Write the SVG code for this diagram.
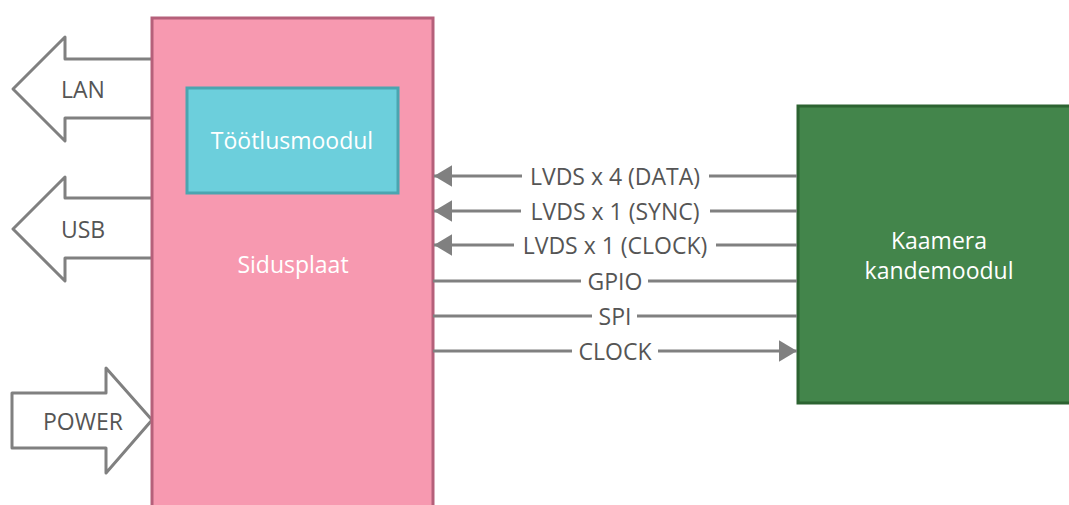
<svg xmlns="http://www.w3.org/2000/svg" width="1069" height="505" viewBox="0 0 1069 505">
<defs>
<style>
.lbl{font-family:"Open Sans","Noto Sans",sans-serif;font-size:23px;fill:#555555;text-anchor:middle;dominant-baseline:central}
.wt{font-family:"Open Sans","Noto Sans",sans-serif;font-size:23px;fill:#ffffff;text-anchor:middle;dominant-baseline:central}
.conn{stroke:#808080;stroke-width:3;fill:none}
.big{fill:#ffffff;stroke:#808080;stroke-width:3;stroke-linejoin:round}
.bg{fill:#ffffff}
</style>
<marker id="ah" viewBox="0 0 10 12" refX="10" refY="6" markerWidth="6" markerHeight="7.2" markerUnits="strokeWidth" orient="auto">
<path d="M0,0 L10,6 L0,12 Z" fill="#808080"/>
</marker>
</defs>
<rect width="1069" height="505" fill="#ffffff"/>
<g id="lan">
<path class="big" d="M152,59 H65 V37 L13,89 L65,141 V118 H152"/>
<text class="lbl" x="83" y="89">LAN</text>
</g>
<g id="usb">
<path class="big" d="M152,198 H65 V177 L13,229 L65,281 V258 H152"/>
<text class="lbl" x="83" y="229">USB</text>
</g>
<g id="power">
<path class="big" d="M152,420 L106,368 V393 H12 V448 H106 V473 Z"/>
<text class="lbl" x="83" y="421">POWER</text>
</g>
<g id="sidusplaat">
<rect x="152" y="18" width="281" height="500" fill="#f799b0" stroke="#b5607a" stroke-width="3"/>
<text class="wt" x="293" y="264">Sidusplaat</text>
</g>
<g id="tootlusmoodul">
<rect x="187" y="88" width="211" height="105" fill="#6ccfdc" stroke="#4aa5b0" stroke-width="3"/>
<text class="wt" x="292" y="140">Töötlusmoodul</text>
</g>
<g id="kaamera">
<rect x="798" y="106" width="290" height="297" fill="#43854b" stroke="#2c6331" stroke-width="3"/>
<text class="wt" x="939" y="240">Kaamera</text>
<text class="wt" x="939" y="270">kandemoodul</text>
</g>
<g id="connectors">
<line class="conn" x1="797" y1="176" x2="434" y2="176" marker-end="url(#ah)"/>
<line class="conn" x1="797" y1="211" x2="434" y2="211" marker-end="url(#ah)"/>
<line class="conn" x1="797" y1="245" x2="434" y2="245" marker-end="url(#ah)"/>
<line class="conn" x1="433" y1="281" x2="797" y2="281"/>
<line class="conn" x1="433" y1="316" x2="797" y2="316"/>
<line class="conn" x1="433" y1="351" x2="797" y2="351" marker-end="url(#ah)"/>
<rect class="bg" x="522" y="164" width="187" height="24"/>
<rect class="bg" x="521" y="199" width="189" height="24"/>
<rect class="bg" x="514" y="233" width="202" height="24"/>
<rect class="bg" x="581" y="269" width="67" height="24"/>
<rect class="bg" x="592" y="304" width="45" height="24"/>
<rect class="bg" x="572" y="339" width="86" height="24"/>
<text class="lbl" x="615" y="176">LVDS x 4 (DATA)</text>
<text class="lbl" x="615" y="211">LVDS x 1 (SYNC)</text>
<text class="lbl" x="615" y="245">LVDS x 1 (CLOCK)</text>
<text class="lbl" x="615" y="281">GPIO</text>
<text class="lbl" x="615" y="316">SPI</text>
<text class="lbl" x="615" y="351">CLOCK</text>
</g>
</svg>
